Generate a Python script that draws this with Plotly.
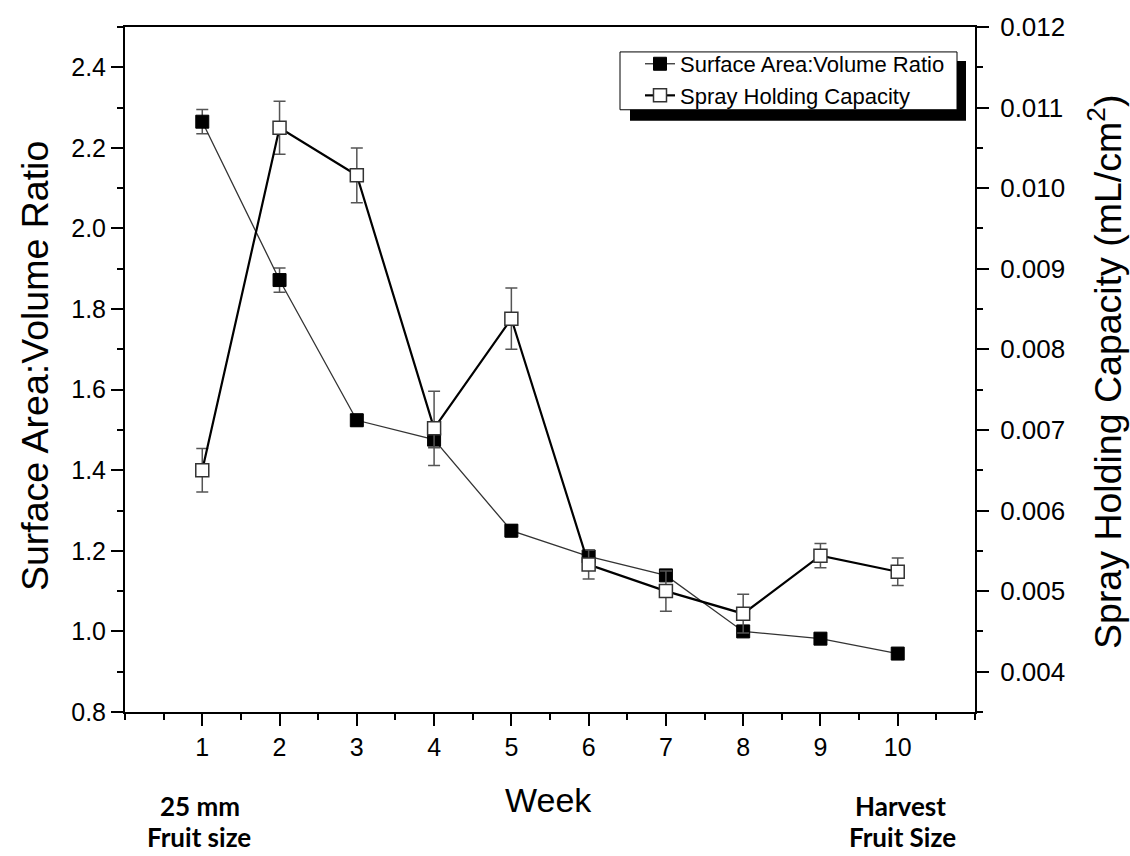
import plotly.graph_objects as go

weeks = [1, 2, 3, 4, 5, 6, 7, 8, 9, 10]
sav_ratio = [2.265, 1.872, 1.524, 1.476, 1.250, 1.186, 1.139, 1.000, 0.982, 0.945]
sav_err = [0.030, 0.030, 0.015, 0.020, 0.015, 0.012, 0.010, 0.008, 0.008, 0.008]
spray_cap = [0.00650, 0.01075, 0.01016, 0.00702, 0.00838, 0.00533, 0.00500, 0.00472, 0.00544, 0.00524]
spray_err = [0.00027, 0.00033, 0.00034, 0.00046, 0.00038, 0.00018, 0.00025, 0.00024, 0.00015, 0.00017]
x_ticks = [1, 2, 3, 4, 5, 6, 7, 8, 9, 10]
y_left_ticks = [0.8, 1.0, 1.2, 1.4, 1.6, 1.8, 2.0, 2.2, 2.4]
y_right_ticks = [0.004, 0.005, 0.006, 0.007, 0.008, 0.009, 0.010, 0.011, 0.012]

W, H = 1130, 856
L, R, T, B = 125, 155, 25, 144
PW, PH = W - L - R, H - T - B


def px(xp):
    return (xp - L) / PW


def py(yp):
    return (H - B - yp) / PH


FONT = "Liberation Sans, Arial, sans-serif"
BOLD = "Lato, Carlito, Open Sans, sans-serif"

fig = go.Figure()
fig.add_trace(go.Scatter(
    x=weeks, y=sav_ratio, name="Surface Area:Volume Ratio",
    mode="lines+markers",
    line=dict(color="#333333", width=1.3),
    marker=dict(symbol="square", size=13, color="black", line=dict(color="black", width=1)),
    error_y=dict(type="data", array=sav_err, color="#555555", thickness=1.5, width=6),
    yaxis="y",
))
fig.add_trace(go.Scatter(
    x=weeks, y=spray_cap, name="Spray Holding Capacity",
    mode="lines+markers",
    line=dict(color="black", width=2.2),
    marker=dict(symbol="square", size=13, color="white", line=dict(color="#333333", width=1.5)),
    error_y=dict(type="data", array=spray_err, color="#555555", thickness=1.5, width=6),
    yaxis="y2",
))

# legend box with shadow
fig.add_shape(type="rect", xref="paper", yref="paper",
              x0=px(630), x1=px(966), y0=py(119), y1=py(59),
              fillcolor="black", line=dict(width=0), layer="above")
fig.add_shape(type="rect", xref="paper", yref="paper",
              x0=px(620), x1=px(957), y0=py(108), y1=py(50),
              fillcolor="white", line=dict(color="black", width=1), layer="above")

fig.add_annotation(text="Surface Area:Volume Ratio", xref="paper", yref="paper",
                   x=px(35), y=py(365), textangle=-90, showarrow=False,
                   xanchor="center", yanchor="middle",
                   font=dict(family=FONT, size=37.5, color="black"))
fig.add_annotation(text="Spray Holding Capacity (mL/cm<sup>2</sup>)", xref="paper", yref="paper",
                   x=px(1105), y=py(371), textangle=-90, showarrow=False,
                   xanchor="center", yanchor="middle",
                   font=dict(family=FONT, size=37.5, color="black"))
fig.add_annotation(text="Week", xref="paper", yref="paper",
                   x=px(548), y=py(800), showarrow=False,
                   xanchor="center", yanchor="middle",
                   font=dict(family=FONT, size=34, color="black"))
fig.add_annotation(text="<b>25 mm</b>", xref="paper", yref="paper",
                   x=px(200), y=py(806), showarrow=False, xanchor="center", yanchor="middle",
                   font=dict(family=BOLD, size=26, color="black"))
fig.add_annotation(text="<b>Fruit size</b>", xref="paper", yref="paper",
                   x=px(199), y=py(855), showarrow=False, xanchor="center", yanchor="bottom",
                   font=dict(family=BOLD, size=26, color="black"))
fig.add_annotation(text="<b>Harvest</b>", xref="paper", yref="paper",
                   x=px(900), y=py(806), showarrow=False, xanchor="center", yanchor="middle",
                   font=dict(family=BOLD, size=26, color="black"))
fig.add_annotation(text="<b>Fruit Size</b>", xref="paper", yref="paper",
                   x=px(902), y=py(855), showarrow=False, xanchor="center", yanchor="bottom",
                   font=dict(family=BOLD, size=26, color="black"))

fig.update_layout(
    width=W, height=H,
    margin=dict(l=L, r=R, t=T, b=B, pad=0),
    paper_bgcolor="white", plot_bgcolor="white",
    font=dict(family=FONT, color="black"),
    showlegend=True,
    legend=dict(x=px(640), y=py(41), xanchor="left", yanchor="top",
                bgcolor="rgba(0,0,0,0)", borderwidth=0,
                font=dict(family=FONT, size=22, color="black"),
                tracegroupgap=0, itemwidth=30),
    xaxis=dict(range=[0, 11], tickvals=x_ticks, ticktext=[str(v) for v in x_ticks],
               showgrid=False, zeroline=False, showline=True, linecolor="black", linewidth=2,
               mirror=True, ticks="outside", ticklen=12, tickwidth=2, tickcolor="black",
               minor=dict(tick0=0, dtick=0.5, ticks="outside", ticklen=6, tickwidth=2, tickcolor="black"),
               tickfont=dict(family=FONT, size=25, color="black")),
    yaxis=dict(range=[0.8, 2.5], tickvals=y_left_ticks, ticktext=[f"{v:.1f}" for v in y_left_ticks],
               showgrid=False, zeroline=False, showline=True, linecolor="black", linewidth=2,
               ticks="outside", ticklen=12, tickwidth=2, tickcolor="black",
               minor=dict(tick0=0.8, dtick=0.1, ticks="outside", ticklen=6, tickwidth=2, tickcolor="black"),
               tickfont=dict(family=FONT, size=25, color="black")),
    yaxis2=dict(range=[0.0035, 0.012], overlaying="y", side="right",
                tickvals=y_right_ticks, ticktext=[f"{v:.3f}" for v in y_right_ticks],
                showgrid=False, zeroline=False, showline=True, linecolor="black", linewidth=2,
                ticks="outside", ticklen=12, tickwidth=2, tickcolor="black", ticklabelstandoff=6,
                minor=dict(tick0=0.0035, dtick=0.0005, ticks="outside", ticklen=6, tickwidth=2, tickcolor="black"),
                tickfont=dict(family=FONT, size=26, color="black")),
)

fig.write_html("out.html")
